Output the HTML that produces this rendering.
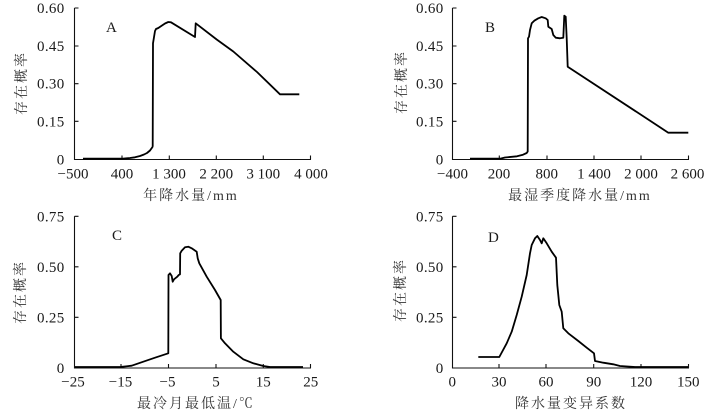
<!DOCTYPE html>
<html><head><meta charset="utf-8"><style>
html,body{margin:0;padding:0;background:#fff;}
svg{display:block;}
text{font-family:"Liberation Serif","Noto Serif CJK SC",serif;fill:#1a1a1a;}
.t{font-size:15px;}
.yl{font-size:15px;text-anchor:end;letter-spacing:0.3px;}
.xl{font-size:15px;text-anchor:middle;}
.ttl{font-size:14px;letter-spacing:2px;text-anchor:middle;fill:#333;}
.cv{fill:none;stroke:#000;stroke-width:1.8;stroke-linejoin:round;}
.ax{fill:none;stroke:#111;stroke-width:1.1;}
</style></head><body>
<svg width="713" height="416" viewBox="0 0 713 416" xmlns="http://www.w3.org/2000/svg">
<!-- Panel A -->
<path class="ax" d="M74.5,8 V159.5 H311 M74.5,8 h4 M74.5,46 h4 M74.5,83.7 h4 M74.5,121.3 h4 M122,159.5 v-4 M169.3,159.5 v-4 M216.3,159.5 v-4 M263.3,159.5 v-4 M310.5,159.5 v-4"/>
<text class="yl" x="64.5" y="13">0.60</text>
<text class="yl" x="64.5" y="51">0.45</text>
<text class="yl" x="64.5" y="88.7">0.30</text>
<text class="yl" x="64.5" y="126.3">0.15</text>
<text class="yl" x="64.5" y="164.5">0</text>
<text class="xl" x="73" y="178.5">−500</text>
<text class="xl" x="122" y="178.5">400</text>
<text class="xl" x="169" y="178.5">1 300</text>
<text class="xl" x="216.3" y="178.5">2 200</text>
<text class="xl" x="263.3" y="178.5">3 100</text>
<text class="xl" x="311" y="178.5">4 000</text>
<text class="ttl" x="191" y="200">年降水量/mm</text>
<text class="ttl" transform="translate(26,83) rotate(-90)">存在概率</text>
<text class="t" x="106" y="32">A</text>
<path class="cv" d="M83,158.7 L123,158.7 L130,158 L135,157.3 L140,156 L144,154.5 L147,153 L150,150.5 L152.5,147 L152.7,146 L153,43.3 L155,31 L156,29 L158.3,28 L162,25.5 L165,23.5 L168.3,22 L171,22.3 L195,37 L195.7,23.3 L216.7,39.5 L233.3,51.5 L257,72 L280,94.3 L299.3,94.3"/>

<!-- Panel B -->
<path class="ax" d="M452.5,8 V159.5 H689 M452.5,8 h4 M452.5,46 h4 M452.5,83.7 h4 M452.5,121.3 h4 M499.3,159.5 v-4 M547,159.5 v-4 M594,159.5 v-4 M641,159.5 v-4 M688.5,159.5 v-4"/>
<text class="yl" x="443.5" y="13">0.60</text>
<text class="yl" x="443.5" y="51">0.45</text>
<text class="yl" x="443.5" y="88.7">0.30</text>
<text class="yl" x="443.5" y="126.3">0.15</text>
<text class="yl" x="443.5" y="164.5">0</text>
<text class="xl" x="452.5" y="178.5">−400</text>
<text class="xl" x="499" y="178.5">200</text>
<text class="xl" x="546.7" y="178.5">800</text>
<text class="xl" x="594" y="178.5">1 400</text>
<text class="xl" x="641" y="178.5">2 000</text>
<text class="xl" x="687.5" y="178.5">2 600</text>
<text class="ttl" x="580" y="200">最湿季度降水量/mm</text>
<text class="ttl" transform="translate(406,82) rotate(-90)">存在概率</text>
<text class="t" x="485" y="32">B</text>
<path class="cv" d="M470,158.7 L500,158.7 L505,157.5 L517,156.3 L523,154.7 L526.7,153 L527.7,151.5 L528,38.3 L529,36.7 L530,30 L531.7,23.3 L534.3,20.7 L538.3,18.3 L541.7,17 L545.7,18.3 L547.7,20 L548.3,26.7 L551.7,29 L553.3,35 L555.7,37.7 L560,38.3 L563.3,37.7 L564.3,15.7 L565.7,16.7 L566.7,38.3 L567.7,66.7 L668.3,132.7 L688.3,132.7"/>

<!-- Panel C -->
<path class="ax" d="M74.5,216.3 V368 H311 M74.5,216.3 h4 M74.5,266.8 h4 M74.5,317.3 h4 M121,368 v-4 M168.5,368 v-4 M216,368 v-4 M263.3,368 v-4 M310.5,368 v-4"/>
<text class="yl" x="64.5" y="221.3">0.75</text>
<text class="yl" x="64.5" y="271.8">0.50</text>
<text class="yl" x="64.5" y="322.3">0.25</text>
<text class="yl" x="64.5" y="373">0</text>
<text class="xl" x="73" y="386.7">−25</text>
<text class="xl" x="120.5" y="386.7">−15</text>
<text class="xl" x="167.5" y="386.7">−5</text>
<text class="xl" x="216" y="386.7">5</text>
<text class="xl" x="263.3" y="386.7">15</text>
<text class="xl" x="310.7" y="386.7">25</text>
<text class="ttl" x="196" y="408">最冷月最低温/℃</text>
<text class="ttl" transform="translate(25,292) rotate(-90)">存在概率</text>
<text class="t" x="112" y="240">C</text>
<path class="cv" d="M75,367 L120,367 L131.7,365.7 L143.3,361.7 L155,357.7 L168.3,353.3 L168.5,275 L170,273.3 L171.7,276 L172.7,281.7 L174,279.3 L177.3,276.7 L178.7,275 L180,274.3 L180.2,253.3 L181.7,250.7 L185,247.3 L188.3,246.7 L191.7,248.3 L196.7,251.7 L197.7,258.3 L199.3,263.3 L206.7,276.7 L215,290 L220.7,300 L220.9,338.3 L225,343.3 L233.3,351.7 L243.3,359.3 L253.3,363.3 L263.3,366 L270,367 L303,367"/>

<!-- Panel D -->
<path class="ax" d="M452.5,216.3 V368 H689 M452.5,216.3 h4 M452.5,266.8 h4 M452.5,317.3 h4 M499,368 v-4 M546,368 v-4 M593.7,368 v-4 M641,368 v-4 M688.5,368 v-4"/>
<text class="yl" x="443.5" y="221.3">0.75</text>
<text class="yl" x="443.5" y="271.8">0.50</text>
<text class="yl" x="443.5" y="322.3">0.25</text>
<text class="yl" x="443.5" y="373">0</text>
<text class="xl" x="452.3" y="386.7">0</text>
<text class="xl" x="499" y="386.7">30</text>
<text class="xl" x="546" y="386.7">60</text>
<text class="xl" x="593.7" y="386.7">90</text>
<text class="xl" x="641" y="386.7">120</text>
<text class="xl" x="688.3" y="386.7">150</text>
<text class="ttl" x="571" y="408">降水量变异系数</text>
<text class="ttl" transform="translate(405,290) rotate(-90)">存在概率</text>
<text class="t" x="488" y="242">D</text>
<path class="cv" d="M478.3,357 L499.3,357 L506.7,343.3 L511.7,331.7 L516.7,315 L521.7,296.7 L526.7,275 L530,253.3 L531.7,245 L535,238.3 L537.3,236 L540,240 L541.7,243.3 L543.3,238.3 L546.7,243.3 L551.7,251.7 L556,257.7 L557.3,285 L559.3,305 L561.7,311.7 L563.3,328.3 L568.3,333.3 L578.3,341 L586.7,347.7 L594,353.3 L595,361 L603.3,362.7 L613.3,364.3 L620,366 L635,367 L688,367"/>
</svg>
</body></html>
